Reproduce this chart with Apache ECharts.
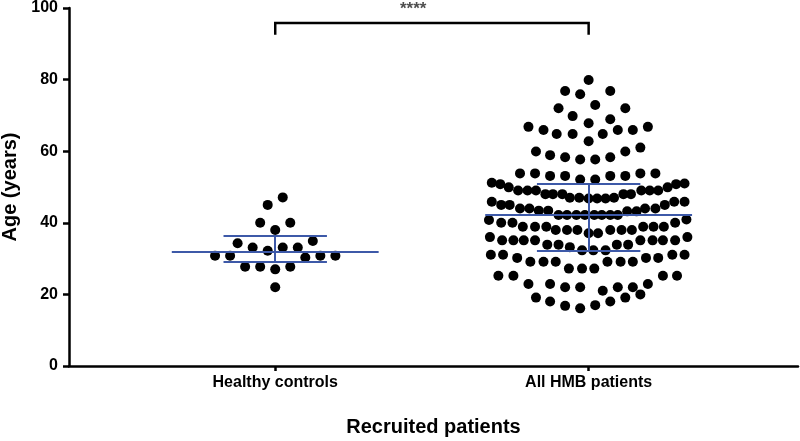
<!DOCTYPE html>
<html>
<head>
<meta charset="utf-8">
<script src="https://cdn.jsdelivr.net/npm/echarts@6/dist/echarts.min.js"></script>
<style>
  html, body { margin: 0; padding: 0; background: #fff; }
  #chart { width: 800px; height: 441px; }
</style>
</head>
<body>
<div id="chart"></div>
<script>
const categories = ['Healthy controls', 'All HMB patients'];

// ages, with the sideways slot of each dot (in dot widths)
const healthyAges = [47.1, 45.0, 40.0, 40.0, 38.0, 34.3, 34.9, 33.1, 33.1, 33.1, 32.2,
  30.8, 30.8, 30.3, 30.8, 30.8, 27.7, 27.7, 27.0, 27.7, 22.0];
const healthySlots = [0.8, -0.8, -1.6, 1.6, 0, -4.0, 4.0, -2.4, 0.8, 2.4, -0.8,
  -6.4, -4.8, 3.2, 4.8, 6.4, -3.2, -1.6, 0, 1.6, 0];

const hmbAges = [
  79.9, 76.8, 75.9, 76.8, 72.9, 72.0, 72.0, 69.8, 68.9, 67.8, 66.8, 65.9, 64.8, 64.8,
  64.8, 65.9, 65.9, 66.8, 62.8, 61.0, 59.9, 59.9, 58.9, 58.3, 58.3, 57.7, 57.7,
  53.8, 53.8, 53.1, 53.1, 52.1, 52.1, 53.1, 53.1, 53.8, 53.8,
  51.2, 50.8, 49.9, 49.0, 49.0, 49.0, 48.0, 48.0, 48.0, 47.0, 47.0, 46.8, 46.8, 46.8,
  47.0, 48.0, 48.0, 49.0, 49.0, 49.0, 49.9, 50.8, 51.0,
  45.9, 45.0, 45.0, 44.0, 44.0, 43.4, 43.4, 42.2, 42.2, 42.2, 42.2, 42.2, 42.2, 42.2,
  42.2, 43.2, 43.2, 44.0, 44.0, 45.0, 45.9, 45.9,
  40.8, 40.0, 40.0, 38.9, 38.9, 38.9, 38.0, 38.0, 38.0, 37.1, 37.1, 38.0, 38.0, 38.0,
  38.9, 38.9, 38.9, 40.0, 40.9,
  36.0, 35.1, 35.1, 35.1, 35.1, 33.9, 33.9, 33.2, 32.3, 32.3, 32.3, 33.9, 33.9, 35.1,
  35.1, 35.1, 35.1, 36.0,
  31.1, 31.1, 30.2, 29.1, 29.1, 29.1, 27.2, 27.2, 27.2, 29.1, 29.1, 29.1, 30.2, 30.2,
  31.1, 31.1,
  25.2, 25.2, 25.2, 25.2,
  22.9, 22.9, 22.0, 22.0, 21.0, 22.0, 22.0, 22.9,
  19.1, 18.0, 16.8, 16.1, 17.0, 18.0, 19.1, 20.0
];
const hmbSlots = [
  0, -2.5, -0.9, 2.3, 0.7, -3.2, 3.9, -1.7, 2.3, 0, -6.4, -4.8, -3.4, -1.7,
  1.5, 3.1, 4.7, 6.3, 0, 5.5, -5.6, 3.9, -4.1, -2.5, 2.3, -0.9, 0.7,
  -7.3, -5.7, -4.1, -2.5, -0.9, 0.7, 2.3, 3.9, 5.5, 7.1,
  -10.3, -9.4, -8.5, -7.5, -6.5, -5.6, -4.6, -3.8, -2.8, -2.0, -1.0, 0, 0.9, 1.8,
  2.7, 3.7, 4.5, 5.6, 6.5, 7.4, 8.4, 9.3, 10.2,
  -10.3, -9.3, -8.4, -7.3, -6.3, -5.3, -4.3, -3.2, -2.3, -1.3, -0.4, 0.6, 1.4, 2.3,
  3.1, 4.1, 5.1, 6.0, 7.1, 8.1, 9.1, 10.2,
  -10.6, -9.3, -8.1, -7.0, -5.7, -4.5, -3.5, -2.3, -1.2, 0, 1.0, 2.3, 3.5, 4.6,
  5.8, 6.9, 8.0, 9.2, 10.4,
  -10.5, -9.2, -8.0, -6.9, -5.7, -4.4, -3.2, -2.0, -0.7, 0.5, 1.8, 3.0, 4.2, 5.5,
  6.8, 7.9, 9.2, 10.5,
  -10.4, -9.1, -7.6, -6.2, -4.8, -3.5, -2.1, -0.7, 0.6, 2.0, 3.4, 4.7, 6.1, 7.4,
  8.9, 10.2,
  -9.6, -8.0, 7.9, 9.4,
  -6.4, -4.1, -2.5, -0.9, 1.5, 3.1, 4.7, 6.3,
  -5.6, -4.1, -2.5, -0.9, 0.7, 2.3, 3.9, 5.5
];

// median and interquartile range (blue lines)
const medians = [31.9, 42.2];
const upperQuartiles = [36.4, 51.0];
const lowerQuartiles = [29.1, 32.1];

const significance = '****';

const slotWidth = 0.03;       // one dot width, in category units
const medianHalf = 0.33;
const quartileHalf = 0.165;
const fontFamily = '"Liberation Sans", Arial, sans-serif';

function toPoints(groupIndex, ages, slots) {
  return ages.map((age, i) => [groupIndex + slots[i] * slotWidth, age]);
}

const statLines = [];
medians.forEach((m, i) => {
  statLines.push({ coords: [[i - medianHalf, m], [i + medianHalf, m]] });
  statLines.push({ coords: [[i - quartileHalf, upperQuartiles[i]], [i + quartileHalf, upperQuartiles[i]]] });
  statLines.push({ coords: [[i - quartileHalf, lowerQuartiles[i]], [i + quartileHalf, lowerQuartiles[i]]] });
  statLines.push({ coords: [[i, lowerQuartiles[i]], [i, upperQuartiles[i]]] });
});

const chart = echarts.init(document.getElementById('chart'));

const option = {
  animation: false,
  backgroundColor: '#fff',
  textStyle: { fontFamily: fontFamily },
  grid: { left: 69, right: 2, top: 8, bottom: 75, outerBoundsMode: 'none' },
  xAxis: {
    type: 'value',
    min: -0.658,
    max: 1.668,
    name: 'Recruited patients',
    nameLocation: 'middle',
    nameGap: 51,
    nameTextStyle: { fontSize: 20, fontWeight: 'bold', color: '#000', fontFamily: fontFamily },
    splitLine: { show: false },
    axisLine: { onZero: false, lineStyle: { color: '#000', width: 2.5 } },
    axisTick: { show: true, length: 5, lineStyle: { color: '#000', width: 2.5 }, customValues: [0, 1] },
    axisLabel: {
      customValues: [0, 1],
      formatter: v => categories[Math.round(v)] || '',
      fontSize: 16, fontWeight: 'bold', color: '#000', margin: 9, fontFamily: fontFamily
    }
  },
  yAxis: {
    type: 'value',
    min: 0,
    max: 100,
    interval: 20,
    name: 'Age (years)',
    nameLocation: 'middle',
    nameRotate: 90,
    nameGap: 44,
    nameTextStyle: { fontSize: 20, fontWeight: 'bold', color: '#000', fontFamily: fontFamily },
    splitLine: { show: false },
    axisLine: { show: true, onZero: false, lineStyle: { color: '#000', width: 2.5 } },
    axisTick: { show: true, length: 6, lineStyle: { color: '#000', width: 2.5 } },
    axisLabel: { fontSize: 16, fontWeight: 'bold', color: '#000', margin: 11, fontFamily: fontFamily }
  },
  series: [
    {
      type: 'scatter',
      symbol: 'circle',
      symbolSize: 10,
      itemStyle: { color: '#000', opacity: 1 },
      data: toPoints(0, healthyAges, healthySlots)
    },
    {
      type: 'scatter',
      symbol: 'circle',
      symbolSize: 10,
      itemStyle: { color: '#000', opacity: 1 },
      data: toPoints(1, hmbAges, hmbSlots)
    },
    {
      type: 'lines',
      coordinateSystem: 'cartesian2d',
      lineStyle: { color: '#3d59a8', width: 2, opacity: 1 },
      data: statLines,
      z: 5
    },
    {
      type: 'lines',
      coordinateSystem: 'cartesian2d',
      polyline: true,
      lineStyle: { color: '#000', width: 2.5, opacity: 1 },
      data: [{ coords: [[0, 92.5], [0, 95.8], [1, 95.8], [1, 92.5]] }]
    },
    {
      type: 'scatter',
      symbolSize: 0,
      clip: false,
      silent: true,
      label: {
        show: true,
        position: 'inside',
        formatter: significance,
        fontSize: 17,
        fontWeight: 'bold',
        color: '#222',
        fontFamily: fontFamily
      },
      data: [[0.44, 99.5]]
    }
  ]
};

chart.setOption(option);
</script>
</body>
</html>
